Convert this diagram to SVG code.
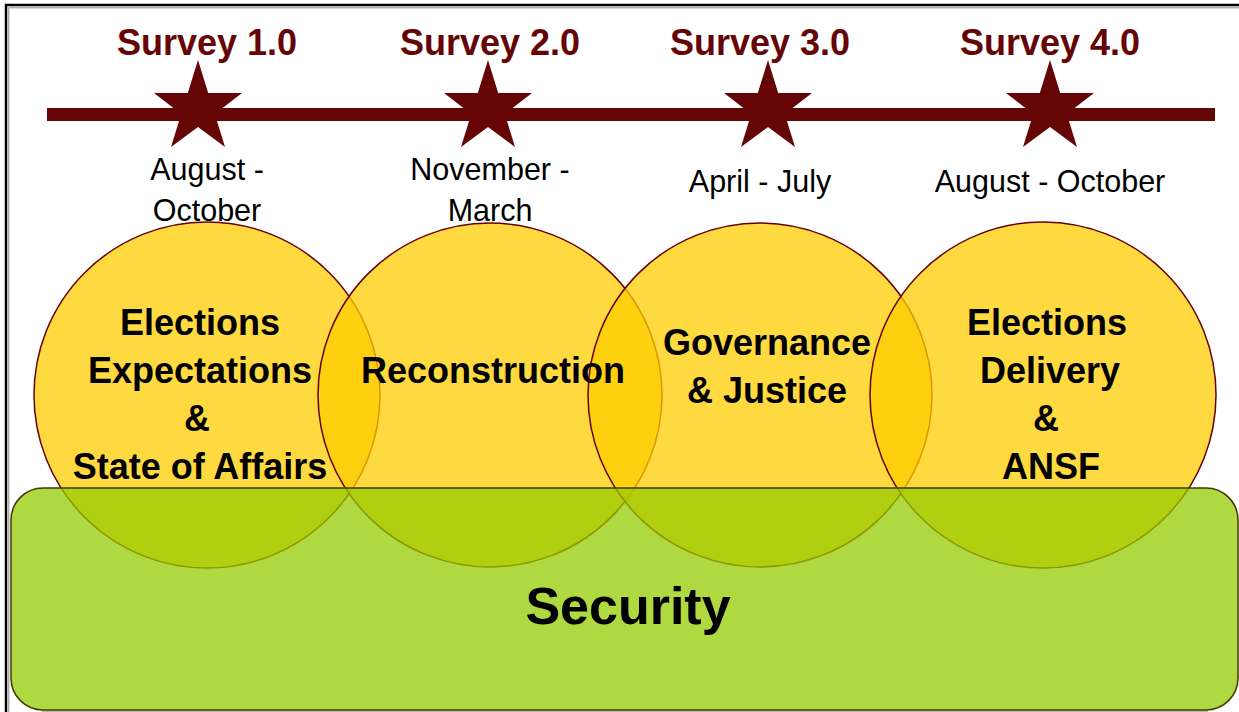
<svg xmlns="http://www.w3.org/2000/svg" width="1239" height="712" viewBox="0 0 1239 712">
  <defs>
    <style>
      .survey { font-family: "Liberation Sans", Arial, sans-serif; font-weight: bold; font-size: 36px; fill: #650505; text-anchor: middle; }
      .date { font-family: "Liberation Sans", Arial, sans-serif; font-size: 30.5px; fill: #000; text-anchor: middle; }
      .topic { font-family: "Liberation Sans", Arial, sans-serif; font-weight: bold; font-size: 36px; fill: #000; text-anchor: middle; }
      .big { font-family: "Liberation Sans", Arial, sans-serif; font-weight: bold; font-size: 52px; fill: #000; text-anchor: middle; }
      .circle { fill: #ffcc00; fill-opacity: 0.75; stroke: #660000; stroke-width: 1.5; }
      .star { fill: #650505; }
    </style>
    <polygon id="star" points="0,-46 10.2,-13 44,-13 16.8,8 27,41 0,21 -27,41 -16.8,8 -44,-13 -10.2,-13"/>
  </defs>

  <rect width="1239" height="712" fill="#ffffff"/>

  <!-- outer frame -->
  <rect x="6" y="5" width="1260" height="730" fill="none" stroke="#000" stroke-width="2.5"/>
  <rect x="8.8" y="7.8" width="1260" height="730" fill="none" stroke="#8a8a8a" stroke-width="1"/>

  <!-- timeline -->
  <g id="timeline">
    <rect x="47" y="108" width="1168" height="13" fill="#650505"/>
    <use href="#star" class="star" transform="translate(198,106)"/>
    <use href="#star" class="star" transform="translate(488,106)"/>
    <use href="#star" class="star" transform="translate(768,106)"/>
    <use href="#star" class="star" transform="translate(1050,106)"/>
  </g>

  <!-- survey titles and periods -->
  <g id="survey1">
    <text class="survey" x="207" y="55">Survey 1.0</text>
    <text class="date" x="207" y="180">August -</text>
    <text class="date" x="207" y="221">October</text>
  </g>
  <g id="survey2">
    <text class="survey" x="490" y="55">Survey 2.0</text>
    <text class="date" x="490" y="180">November -</text>
    <text class="date" x="490" y="221">March</text>
  </g>
  <g id="survey3">
    <text class="survey" x="760" y="55">Survey 3.0</text>
    <text class="date" x="760" y="192">April - July</text>
  </g>
  <g id="survey4">
    <text class="survey" x="1050" y="55">Survey 4.0</text>
    <text class="date" x="1050" y="192">August - October</text>
  </g>

  <!-- topic circles -->
  <g id="topics">
    <circle id="c1" class="circle" cx="207" cy="395" r="173"/>
    <circle id="c2" class="circle" cx="490" cy="395" r="172"/>
    <circle id="c3" class="circle" cx="760" cy="395" r="172"/>
    <circle id="c4" class="circle" cx="1043" cy="395" r="173"/>
  </g>

  <!-- security band -->
  <g id="security">
    <line x1="42" y1="711.2" x2="1208" y2="711.2" stroke="#a0a0a0" stroke-width="1.2"/>
    <rect x="11" y="488" width="1227" height="222" rx="32" fill="#95cb00" fill-opacity="0.75" stroke="#3c3c00" stroke-width="1.5"/>
    <text class="big" x="628" y="624">Security</text>
  </g>

  <!-- topic labels -->
  <g id="label1">
    <text class="topic" x="200" y="335">Elections</text>
    <text class="topic" x="200" y="383">Expectations</text>
    <text class="topic" x="197" y="431">&amp;</text>
    <text class="topic" x="200" y="479">State of Affairs</text>
  </g>
  <g id="label2">
    <text class="topic" x="493" y="383">Reconstruction</text>
  </g>
  <g id="label3">
    <text class="topic" x="767" y="355">Governance</text>
    <text class="topic" x="767" y="403">&amp; Justice</text>
  </g>
  <g id="label4">
    <text class="topic" x="1047" y="335">Elections</text>
    <text class="topic" x="1050" y="383">Delivery</text>
    <text class="topic" x="1046" y="431">&amp;</text>
    <text class="topic" x="1051" y="479">ANSF</text>
  </g>
</svg>
